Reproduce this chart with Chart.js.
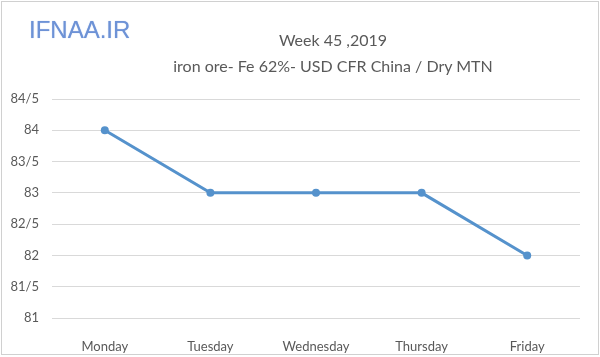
<!DOCTYPE html>
<html>
<head>
<meta charset="utf-8">
<script src="https://cdn.jsdelivr.net/npm/chart.js@4/dist/chart.umd.min.js"></script>
<style>
  html, body { margin: 0; padding: 0; background: #fff; }
  #wrap { position: relative; width: 600px; height: 357px; overflow: hidden; }
  #frame { position: absolute; left: 1px; top: 1px; width: 596px; height: 352px; border: 1px solid #d0d0d0; pointer-events: none; }
  #logo { position: absolute; left: 29px; top: 16px; font-family: "Liberation Sans", Arial, sans-serif; font-size: 24px; color: #6d92d6; letter-spacing: 0px; text-shadow: 0 0 1px #9fb8e6; }
  .t { position: absolute; width: 600px; left: 33px; text-align: center; font-family: Lato, "Open Sans", sans-serif; color: #595959; font-size: 16px; white-space: nowrap; }
  #t1 { top: 30px; }
  #t2 { top: 56px; }
  canvas { position: absolute; left: 0; top: 0; }
</style>
</head>
<body>
<div id="wrap">
  <canvas id="c" width="600" height="357"></canvas>
  <div id="logo">IFNAA.IR</div>
  <div class="t" id="t1">Week 45 ,2019</div>
  <div class="t" id="t2">iron ore- Fe 62%- USD CFR China / Dry MTN</div>
  <div id="frame"></div>
</div>
<script>
const days = ["Monday", "Tuesday", "Wednesday", "Thursday", "Friday"];
const prices = [84, 83, 83, 83, 82];
const yMin = 81;
const yMax = 84.5;
const yStep = 0.5;

new Chart(document.getElementById("c"), {
  type: "line",
  data: {
    labels: days,
    datasets: [{
      data: prices,
      borderColor: "#5592cc",
      backgroundColor: "#5592cc",
      borderWidth: 3,
      pointRadius: 4,
      pointBorderWidth: 0,
      tension: 0
    }]
  },
  options: {
    responsive: false,
    animation: false,
    layout: { padding: { top: 99, right: 20, bottom: 0, left: 0 } },
    plugins: { legend: { display: false }, tooltip: { enabled: false } },
    scales: {
      x: {
        offset: true,
        grid: { display: false },
        border: { display: false },
        ticks: { color: "#595959", font: { family: "Lato, 'Open Sans', sans-serif", size: 13 }, padding: 13 },
        afterFit: s => { s.height = 39; }
      },
      y: {
        min: yMin,
        max: yMax,
        grid: { color: "#d9d9d9", drawTicks: false },
        border: { display: false },
        ticks: {
          stepSize: yStep,
          color: "#595959",
          font: { family: "Lato, 'Open Sans', sans-serif", size: 13 },
          padding: 13,
          callback: v => String(v).replace(".", "/")
        },
        afterFit: s => { s.width = 52; }
      }
    }
  }
});
</script>
</body>
</html>
